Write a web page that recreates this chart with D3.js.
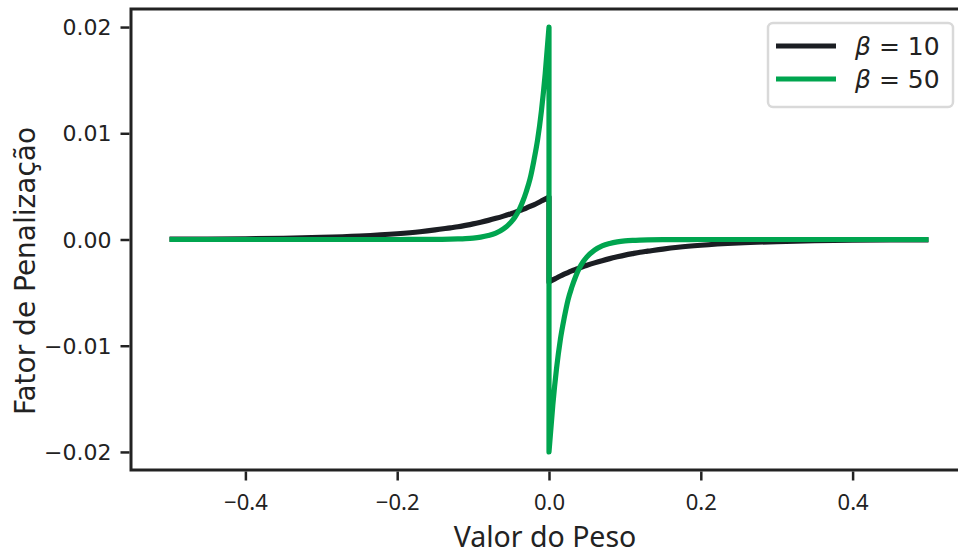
<!DOCTYPE html>
<html><head><meta charset="utf-8">
<script src="https://cdn.jsdelivr.net/npm/d3@7"></script>
<style>body{margin:0;background:#fff;}svg{display:block;}</style>
</head><body>
<svg id="c" width="958" height="553"></svg>
<script>
// ---- data ----
const weightsLeft = [-0.5,-0.45,-0.4,-0.35,-0.3,-0.25,-0.2,-0.17,-0.15,-0.13,-0.12,-0.11,-0.1,-0.09,-0.08,-0.07,-0.06,-0.05,-0.045,-0.04,-0.035,-0.03,-0.025,-0.02,-0.015,-0.01,-0.005,0];
const beta10Left = [0.00003,0.00004,0.00007,0.00012,0.0002,0.00033,0.00054,0.00073,0.0009,0.0011,0.0012,0.00133,0.00147,0.00163,0.0018,0.00199,0.0022,0.00243,0.00255,0.00268,0.00282,0.00296,0.00311,0.00327,0.00344,0.00362,0.0038,0.004];
const beta50Left = [0,0,0,0,0,0,0,0.00001,0.00001,0.00003,0.00005,0.00008,0.00013,0.00022,0.00037,0.0006,0.001,0.00164,0.0021,0.0027,0.0035,0.0045,0.0057,0.0074,0.0094,0.0121,0.0156,0.02];
const weightsRight = [0,0.005,0.01,0.015,0.02,0.025,0.03,0.035,0.04,0.045,0.05,0.06,0.07,0.08,0.09,0.1,0.11,0.12,0.13,0.15,0.17,0.2,0.25,0.3,0.35,0.4,0.45,0.5];
const beta10Right = [-0.004,-0.0038,-0.00362,-0.00344,-0.00327,-0.00311,-0.00296,-0.00282,-0.00268,-0.00255,-0.00243,-0.0022,-0.00199,-0.0018,-0.00163,-0.00147,-0.00133,-0.0012,-0.0011,-0.0009,-0.00073,-0.00054,-0.00033,-0.0002,-0.00012,-0.00007,-0.00004,-0.00003];
const beta50Right = [-0.02,-0.0156,-0.0121,-0.0094,-0.0074,-0.0057,-0.0045,-0.0035,-0.0027,-0.0021,-0.00164,-0.001,-0.0006,-0.00037,-0.00022,-0.00013,-0.00008,-0.00005,-0.00003,-0.00001,-0.00001,0,0,0,0,0,0,0];
const xTicks = [-0.4,-0.2,0.0,0.2,0.4];
const xTickLabels = ["\u22120.4","\u22120.2","0.0","0.2","0.4"];
const yTicks = [0.02,0.01,0.0,-0.01,-0.02];
const yTickLabels = ["0.02","0.01","0.00","\u22120.01","\u22120.02"];
const seriesNames = ["10","50"];
const seriesColors = ["#1b1e23","#00a54f"];

// ---- layout ----
const svg = d3.select("#c");
const L = 131, T = 9, B = 470;
const x = d3.scaleLinear().domain([-0.5,0.5]).range([549-379.5, 549+379.5]);
const y = d3.scaleLinear().domain([-0.0217,0.0217]).range([B, T]);
const R = x(0.55);

const gPlot = svg.append("g");
const line = d3.line().x(d=>x(d[0])).y(d=>y(d[1])).curve(d3.curveMonotoneX);
function pathFor(lv, rv){
  const a = line(weightsLeft.map((w,i)=>[w,lv[i]]));
  const b = line(weightsRight.map((w,i)=>[w,rv[i]]));
  return a + "L" + b.slice(1);
}
const series = [[beta10Left,beta10Right],[beta50Left,beta50Right]];
series.forEach((s,i)=>{
  gPlot.append("path").attr("d", pathFor(s[0], s[1]))
    .attr("fill","none").attr("stroke",seriesColors[i]).attr("stroke-width",5.2)
    .attr("stroke-linejoin","round").attr("stroke-linecap","butt");
});

// spines
svg.append("rect").attr("x",L).attr("y",T).attr("width",R-L).attr("height",B-T)
  .attr("fill","none").attr("stroke","#222").attr("stroke-width",3);

// x axis
const xAxis = d3.axisBottom(x).tickValues(xTicks).tickSize(9).tickFormat((d,i)=>xTickLabels[i]);
const gx = svg.append("g").attr("transform",`translate(0,${B+1.5})`).call(xAxis);
gx.select(".domain").remove();
gx.selectAll(".tick line").attr("stroke","#222").attr("stroke-width",2.5);
gx.selectAll(".tick text").style("font-family","'Noto Sans'").style("font-size","22px")
  .attr("fill","#222").attr("y",0).attr("dy",0)
  .attr("transform",`translate(0,${510-B-1.5})`);

// y axis
const yAxis = d3.axisLeft(y).tickValues(yTicks).tickSize(9).tickFormat((d,i)=>yTickLabels[i]);
const gy = svg.append("g").attr("transform",`translate(${L-1.5},0)`).call(yAxis);
gy.select(".domain").remove();
gy.selectAll(".tick line").attr("stroke","#222").attr("stroke-width",2.5);
gy.selectAll(".tick text").style("font-family","'DejaVu Sans'").style("font-size","22px")
  .attr("fill","#222").attr("x",-18).attr("dy","0.35em");

// labels
svg.append("text").attr("x",545).attr("y",547)
  .attr("text-anchor","middle").style("font-family","'Noto Sans'").style("font-size","28.5px")
  .attr("fill","#222").text("Valor do Peso");
svg.append("text").attr("transform","translate(35,271) rotate(-90)")
  .attr("text-anchor","middle").style("font-family","'DejaVu Sans'").style("font-size","28px")
  .attr("fill","#222").text("Fator de Penaliza\u00e7\u00e3o");

// legend
const lg = svg.append("g");
lg.append("rect").attr("x",768).attr("y",23).attr("width",185).attr("height",84).attr("rx",5)
  .attr("fill","#fff").attr("stroke","#d9d9d9").attr("stroke-width",2.5);
seriesNames.forEach((n,i)=>{
  const yy = 46 + i*33;
  lg.append("line").attr("x1",776).attr("x2",836).attr("y1",yy).attr("y2",yy)
    .attr("stroke",seriesColors[i]).attr("stroke-width",5.2);
  const t = lg.append("text").attr("x",855).attr("y",yy+9).style("font-family","'DejaVu Sans'")
    .style("font-size","25px").attr("fill","#222");
  t.append("tspan").attr("font-style","italic").text("\u03b2");
  t.append("tspan").text(" = " + n);
});
</script>
</body></html>
